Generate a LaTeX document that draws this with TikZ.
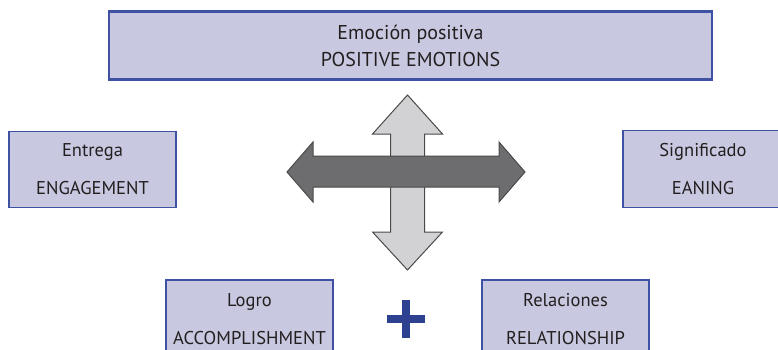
\documentclass[tikz,border=0pt]{standalone}
\usepackage{fontspec}
\setmainfont{PT Sans}
\definecolor{boxfill}{HTML}{C8C8E0}
\definecolor{boxline}{HTML}{3F51A3}
\definecolor{plusblue}{HTML}{2E4190}
\definecolor{lightarrow}{HTML}{D2D2D4}
\definecolor{darkarrow}{HTML}{6D6D6F}
\definecolor{arrowedge}{HTML}{4A4A4A}
\definecolor{txt}{HTML}{231F20}
\begin{document}
\begin{tikzpicture}[x=1pt,y=-1pt,
  box/.style={draw=boxline, fill=boxfill, line width=1.2pt, align=center,
    inner sep=0pt, text=txt, font=\fontsize{18.5}{38}\selectfont},
  bigbox/.style={box, line width=2.5pt, font=\fontsize{20}{27}\selectfont},
  arrowshape/.style={draw=arrowedge, line width=1pt, line join=miter}]
\clip (0,0) rectangle (778,350);
\node[bigbox, minimum width=603pt, minimum height=68pt] (pe) at (410.5,45.5) {Emoción positiva\\POSITIVE EMOTIONS};
\node[box, minimum width=167pt, minimum height=76pt] (en) at (92.5,169.5) {Entrega\\ENGAGEMENT};
\node[box, minimum width=160pt, minimum height=77pt] (me) at (703,169) {Significado\\EANING};
\node[box, minimum width=167pt, minimum height=78pt] (ac) at (249.5,319) {Logro\\ACCOMPLISHMENT};
\node[box, minimum width=167pt, minimum height=78pt] (re) at (565.5,319) {Relaciones\\RELATIONSHIP};
% vertical arrow
\draw[arrowshape, fill=lightarrow] (407.5,95) -- (442.5,134) -- (424.5,134) -- (424.5,232) -- (442.5,232)
  -- (407.5,270) -- (372.5,232) -- (390.5,232) -- (390.5,134) -- (372.5,134) -- cycle;
% horizontal arrow
\draw[arrowshape, fill=darkarrow] (287,172) -- (313,142) -- (313,156) -- (499,156) -- (499,142)
  -- (525,172) -- (499,202) -- (499,187) -- (313,187) -- (313,202) -- cycle;
% plus
\draw[plusblue, line width=8pt] (387,319) -- (425,319);
\draw[plusblue, line width=8pt] (406,300) -- (406,338);
\end{tikzpicture}
\end{document}
